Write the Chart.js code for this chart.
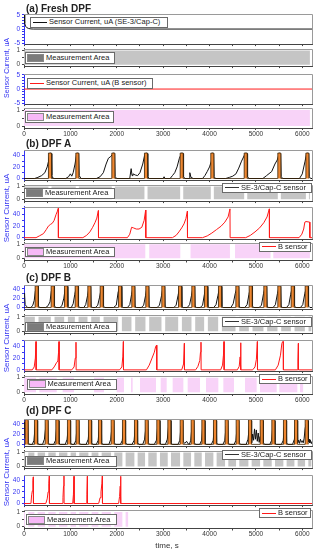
<!DOCTYPE html>
<html><head><meta charset="utf-8">
<script src="https://cdn.jsdelivr.net/npm/chart.js@4.4.1/dist/chart.umd.min.js"></script>
<style>
html,body{margin:0;padding:0;background:#fff;}
#wrap{position:relative;width:318px;height:550px;overflow:hidden;font-family:"Liberation Sans",Arial,sans-serif;background:#fff;}
#wrap canvas{position:absolute;left:0;}
.title{position:absolute;left:26px;font-weight:bold;font-size:10px;line-height:12px;color:#222;white-space:nowrap;z-index:6;}
.ylab{position:absolute;color:#3434f2;font-size:8px;line-height:9px;white-space:nowrap;transform:translate(-50%,-50%) rotate(-90deg);z-index:6;}
.xlab{position:absolute;color:#333;font-size:8px;line-height:9px;white-space:nowrap;transform:translate(-50%,-50%);z-index:6;}
.leg{position:absolute;background:#fff;border:1px solid #6a6a6a;box-sizing:border-box;display:flex;align-items:center;font-size:7.5px;line-height:8px;color:#222;white-space:nowrap;z-index:5;overflow:hidden;}
.leg .ln{display:inline-block;width:14px;height:0;margin:0 2px 0 2px;flex:none;}
.leg .sw{display:inline-block;width:17px;height:8px;margin:0 2px 0 1px;flex:none;box-sizing:border-box;}
</style></head>
<body>
<div id="wrap"></div>
<script>
// ---------------- DATA ----------------
const xMajorTicks = [0, 1000, 2000, 3000, 4000, 5000, 6000];
const sensorTicksFresh = [-5, 0, 5];
const sensorTicks = [0, 20, 40];
const areaTicks = [0, 1];

// (a) Fresh DPF
const freshSE3 = [[0,8],[10,4],[20,2],[35,1],[60,0.5],[100,0.2],[150,0.05],[200,0],[6220,0]];
const freshB = [[0,0],[6220,0]];
const freshAreaSE3 = [[0,6165]];
const freshAreaB = [[0,6165]];

// (b) DPF A
const dpfA_regen = [560,1150,1926,2630,3400,4060,4780,5505,6110];
const dpfA_SE3 = [[0,0],[230,0],[300,2],[380,5],[450,10],[500,20],[530,30],[545,38],[560,44],[590,43],[600,5],[620,1],[650,0],
[900,0],[960,3],[1000,8],[1030,4],[1060,10],[1100,25],[1130,40],[1150,44],[1180,43],[1190,5],[1230,0],
[1560,0],[1640,3],[1710,10],[1770,25],[1820,35],[1870,38],[1910,42],[1926,44],[1955,43],[1965,3],[2000,0],
[2280,0],[2310,17],[2330,5],[2350,8],[2400,6],[2450,5],[2500,10],[2560,25],[2600,40],[2630,44],[2660,43],[2670,3],[2700,0],
[3000,0],[3020,3],[3040,0],[3150,0],[3200,5],[3250,10],[3300,20],[3350,35],[3400,44],[3430,43],[3440,3],[3470,0],
[3560,0],[3575,10],[3600,2],[3650,0],[3850,0],[3900,5],[3950,12],[4000,20],[4040,30],[4060,44],[4090,43],[4100,3],[4130,0],
[4350,0],[4430,2],[4500,4],[4570,8],[4630,18],[4690,30],[4750,40],[4780,44],[4810,43],[4820,3],[4850,0],
[5150,0],[5230,5],[5340,12],[5410,25],[5460,32],[5490,40],[5505,44],[5535,43],[5545,3],[5580,0],
[5940,0],[6000,8],[6060,30],[6090,42],[6110,44],[6140,43],[6150,3],[6180,0],[6220,0]];
const dpfA_B = [[0,0],[260,0],[330,3],[420,7],[480,14],[525,20],[570,23],[610,25],[650,30],[690,40],[720,46],[740,51],[742,0],
[1270,0],[1350,4],[1420,10],[1480,18],[1530,26],[1570,34],[1603,47],[1606,0],
[2230,0],[2280,6],[2320,18],[2360,17],[2420,15],[2480,15],[2540,18],[2590,30],[2623,48],[2626,0],
[3200,0],[3280,4],[3340,10],[3400,17],[3450,24],[3490,33],[3522,46],[3525,0],
[3850,0],[3950,3],[4050,8],[4150,14],[4250,20],[4330,27],[4400,36],[4441,50],[4444,0],
[4780,0],[4880,4],[4980,10],[5080,17],[5170,26],[5240,36],[5289,50],[5292,0],
[5930,0],[5990,6],[6030,15],[6055,27],[6080,28],[6160,27],[6163,0],[6220,0]];
const dpfA_areaSE3 = [[0,527],[593,1117],[1183,1893],[1959,2597],[2663,3367],[3433,4027],[4093,4747],[4813,5472],[5538,6077],[6143,6165]];
const dpfA_areaB = [[0,2615],[2700,3370],[3590,4440],[4550,5315],[5375,6165]];

// (c) DPF B
const dpfB_regen = [273,618,906,1136,1409,1675,2070,2357,2659,3004,3364,3651,3924,4226,4600,4887,5203,5505,5793,6095];
const dpfB_SE3 = [[0,30],[12,28],[25,6],[50,3],[80,0],
[150,0],[190,5],[220,15],[245,35],[273,46],[305,45],[312,3],[340,0],
[470,0],[520,4],[560,12],[590,35],[618,46],[650,45],[658,3],[690,0],
[780,0],[820,5],[860,20],[885,38],[906,46],[938,45],[946,3],[975,0],
[1020,0],[1060,8],[1095,28],[1120,40],[1136,46],[1168,45],[1176,3],[1205,0],
[1290,0],[1330,6],[1370,25],[1395,40],[1409,46],[1441,45],[1449,3],[1480,0],
[1540,0],[1590,5],[1630,22],[1660,38],[1675,46],[1707,45],[1715,3],[1745,0],
[1930,0],[1990,5],[2030,33],[2050,38],[2070,46],[2102,45],[2110,3],[2140,0],
[2230,0],[2280,6],[2320,28],[2345,40],[2357,46],[2389,45],[2397,3],[2425,0],
[2530,0],[2580,5],[2620,25],[2645,40],[2659,46],[2691,45],[2699,3],[2730,0],
[2870,0],[2920,5],[2965,25],[2990,40],[3004,46],[3036,45],[3044,3],[3075,0],
[3230,0],[3280,5],[3320,25],[3350,40],[3364,46],[3396,45],[3404,3],[3435,0],
[3520,0],[3570,6],[3610,25],[3638,40],[3651,46],[3683,45],[3691,3],[3720,0],
[3800,0],[3850,5],[3890,28],[3912,40],[3924,46],[3956,45],[3964,3],[3995,0],
[4090,0],[4140,6],[4180,25],[4212,40],[4226,46],[4258,45],[4266,3],[4295,0],
[4460,0],[4510,8],[4555,30],[4585,40],[4600,46],[4632,45],[4640,3],[4670,0],
[4760,0],[4810,6],[4850,28],[4875,40],[4887,46],[4919,45],[4927,3],[4955,0],
[5070,0],[5120,5],[5165,30],[5190,40],[5203,46],[5235,45],[5243,3],[5275,0],
[5370,0],[5420,6],[5465,30],[5490,40],[5505,46],[5537,45],[5545,3],[5575,0],
[5660,0],[5710,6],[5750,28],[5778,40],[5793,46],[5825,45],[5833,3],[5865,0],
[5960,0],[6010,6],[6055,30],[6082,40],[6095,46],[6127,45],[6135,3],[6165,0],[6220,0]];
const dpfB_B = [[0,0],[180,0],[220,5],[245,20],[259,48],[262,0],
[600,0],[650,5],[700,12],[730,15],[745,30],[755,48],[758,0],
[1030,0],[1080,5],[1105,20],[1121,47],[1124,0],
[2060,0],[2110,5],[2130,22],[2142,48],[2145,0],
[2640,0],[2700,8],[2760,20],[2810,30],[2840,40],[2860,42],[2863,0],
[3400,0],[3440,10],[3457,45],[3460,0],
[3700,0],[3750,6],[3790,16],[3805,30],[3816,47],[3819,0],
[4240,0],[4280,8],[4300,25],[4312,48],[4315,0],
[4600,0],[4640,6],[4660,22],[4672,46],[4675,0],
[4930,0],[4980,5],[5010,18],[5031,48],[5034,0],
[5420,0],[5480,8],[5530,25],[5560,45],[5577,48],[5590,48],[5593,0],
[5890,0],[5905,15],[5915,45],[5918,0],[6220,0]];
const dpfB_areaSE3 = [[0,233],[313,578],[658,866],[946,1096],[1176,1369],[1449,1635],[1715,2030],[2110,2317],[2397,2619],[2699,2964],[3044,3324],[3404,3611],[3691,3884],[3964,4186],[4266,4560],[4640,4847],[4927,5163],[5243,5465],[5545,5753],[5833,6055],[6135,6200]];
const dpfB_areaB = [[0,259],[331,705],[834,1078],[1509,1725],[1998,2156],[2307,2343],[2501,2846],[2947,3076],[3205,3436],[3529,3795],[3924,4190],[4298,4528],[4765,5016],[5088,5448],[5505,5893],[5951,6023]];

// (d) DPF C
const dpfC_regen = [57,259,489,719,970,1157,1423,1639,1912,2156,2415,2645,2896,3134,3400,3637,3867,4118,4370,4607,4873,5125,5376,5627,5865,6095];
const dpfC_SE3 = [[0,40],[12,43],[22,12],[35,30],[57,47],[85,46],[92,3],[120,0],
[180,0],[215,8],[240,35],[259,47],[287,46],[294,3],[320,0],
[400,0],[440,10],[470,35],[489,47],[517,46],[524,3],[550,0],
[640,0],[680,8],[705,35],[719,47],[747,46],[754,3],[780,0],
[890,0],[930,10],[955,35],[970,47],[998,46],[1005,3],[1030,0],
[1080,0],[1120,8],[1145,36],[1157,47],[1185,46],[1192,3],[1220,0],
[1340,0],[1385,10],[1410,36],[1423,47],[1451,46],[1458,3],[1485,0],
[1560,0],[1600,8],[1625,35],[1639,47],[1667,46],[1674,3],[1700,0],
[1830,0],[1870,10],[1898,36],[1912,47],[1940,46],[1947,3],[1975,0],
[2080,0],[2120,8],[2143,35],[2156,47],[2184,46],[2191,3],[2220,0],
[2330,0],[2375,8],[2400,36],[2415,47],[2443,46],[2450,3],[2480,0],
[2560,0],[2600,10],[2630,35],[2645,47],[2673,46],[2680,3],[2710,0],
[2810,0],[2855,8],[2882,35],[2896,47],[2924,46],[2931,3],[2960,0],
[3050,0],[3090,10],[3120,38],[3134,47],[3162,46],[3169,3],[3200,0],
[3320,0],[3360,8],[3385,36],[3400,47],[3428,46],[3435,5],[3470,2],[3505,6],[3540,1],[3565,0],
[3595,8],[3622,36],[3637,47],[3665,46],[3672,3],[3700,0],
[3790,0],[3830,8],[3853,36],[3867,47],[3895,46],[3902,3],[3930,0],
[4040,0],[4080,8],[4105,36],[4118,47],[4146,46],[4153,3],[4180,0],
[4290,0],[4330,8],[4357,36],[4370,47],[4398,46],[4405,3],[4430,0],
[4530,0],[4570,8],[4595,36],[4607,47],[4635,46],[4642,3],[4670,0],
[4790,0],[4830,10],[4860,36],[4873,47],[4901,46],[4908,3],[4930,20],[4950,8],[4970,30],[4990,10],[5010,28],[5030,6],[5050,22],[5070,4],[5090,15],[5100,8],[5112,36],[5125,47],[5153,46],[5160,3],[5190,0],
[5300,0],[5340,8],[5363,36],[5376,47],[5404,46],[5411,3],[5440,0],
[5550,0],[5590,8],[5614,36],[5627,47],[5655,46],[5662,3],[5690,0],
[5790,0],[5830,10],[5852,36],[5865,47],[5893,46],[5900,3],[5920,8],[5940,2],[5960,10],[5980,4],[6000,7],[6020,3],[6040,12],[6060,30],[6080,40],[6095,47],[6123,46],[6130,5],[6145,10],[6160,3],[6175,8],[6190,2],[6205,5],[6220,1]];
const dpfC_B = [[0,0],[150,0],[165,15],[180,22],[192,40],[201,46],[204,0],
[470,0],[500,8],[520,20],[535,35],[546,48],[549,0],
[820,0],[840,10],[852,30],[862,48],[865,0],
[1050,0],[1065,15],[1078,47],[1081,0],
[1340,0],[1355,15],[1366,47],[1369,0],
[1610,0],[1640,10],[1660,20],[1680,35],[1689,48],[1692,0],
[2040,0],[2060,12],[2075,30],[2084,47],[2087,0],[6220,0]];
const dpfC_areaSE3 = [[0,22],[92,224],[294,454],[524,684],[754,935],[1005,1122],[1192,1388],[1458,1604],[1674,1877],[1947,2121],[2191,2380],[2450,2610],[2680,2861],[2931,3099],[3169,3365],[3435,3602],[3672,3832],[3902,4083],[4153,4335],[4405,4572],[4642,4838],[4908,5090],[5160,5341],[5411,5592],[5662,5830],[5900,6060],[6130,6200]];
const dpfC_areaB = [[0,22],[92,224],[294,454],[524,684],[754,935],[1005,1122],[1192,1388],[1458,1604],[1674,1877],[1947,2121],[2191,2250]];

// regeneration marker level (uA) per test and duration (s)
const regenLevel = {b: 44, c: 46, d: 48};
const regenDuration = 66;

// ---------------- LAYOUT / STYLE ----------------
const W = 318, AREA_L = 24, AREA_R = 312.5, X_MAX = 6220;
const FONT = '"Liberation Sans", Arial, sans-serif';
const BLUE = '#3434f2', DARK = '#444';
const C_BLACK = '#111', C_RED = '#ff1a1a', C_ORANGE = '#ee8630', C_ORANGE_EDGE = '#3b2408';
const C_GRAY = '#c5c5c5', C_GRAY_SW = '#7b7b7b', C_PINK = '#f8d3f8', C_PINK_SW = '#f7b8f7';

const layout = {
  a: [{top:14,bottom:46,ref:[[-5,45],[5,15]]},{top:48.5,bottom:67.2,ref:[[0,65.7],[1,50.7]]},{top:74,bottom:106,ref:[[-5,105],[5,75]]},{top:108,bottom:128,ref:[[0,126],[1,110]]}],
  b: [{top:150,bottom:182,ref:[[0,180.3],[40,155.7]]},{top:184.5,bottom:203,ref:[[0,201],[1,186.7]]},{top:206.5,bottom:240.5,ref:[[0,239],[40,215]]},{top:242.5,bottom:260.5,ref:[[0,258.3],[1,244.3]]}],
  c: [{top:285,bottom:311,ref:[[0,309.3],[40,289]]},{top:314.5,bottom:335,ref:[[0,333],[1,317]]},{top:340,bottom:373,ref:[[0,371.7],[40,346.7]]},{top:375.5,bottom:394,ref:[[0,392.3],[1,377.7]]}],
  d: [{top:419,bottom:447.5,ref:[[0,445.7],[40,424]]},{top:450.5,bottom:470,ref:[[0,468.3],[1,452.7]]},{top:475,bottom:507,ref:[[0,505.3],[40,480.7]]},{top:510,bottom:528.5,ref:[[0,526.7],[1,512]]}]
};

const wrap = document.getElementById('wrap');

const framePlugin = {
  id: 'frame',
  afterDraw(chart) {
    const {ctx, chartArea: a} = chart;
    ctx.save();
    ctx.strokeStyle = '#9a9a9a';
    ctx.lineWidth = 1;
    ctx.beginPath();
    ctx.moveTo(a.left, Math.round(a.top) + 0.5);
    ctx.lineTo(Math.round(a.right) - 0.5, Math.round(a.top) + 0.5);
    ctx.lineTo(Math.round(a.right) - 0.5, a.bottom);
    ctx.stroke();
    ctx.restore();
  }
};

function toXY(pairs) { return pairs.map(p => ({x: p[0], y: p[1]})); }

function lineDS(pairs, color, order) {
  return {type: 'line', data: toXY(pairs), borderColor: color, borderWidth: 1, pointRadius: 0, tension: 0, fill: false, order: order};
}
function stepDS(intervals, level, fillColor, edgeColor, edgeWidth, order) {
  const pts = [];
  if (intervals.length && intervals[0][0] > 0) pts.push({x: 0, y: 0});
  intervals.forEach(([a, b]) => { pts.push({x: a, y: level}); pts.push({x: b, y: 0}); });
  return {type: 'line', data: pts, stepped: 'before', borderColor: edgeColor, borderWidth: edgeWidth,
          backgroundColor: fillColor, fill: 'origin', pointRadius: 0, order: order};
}
function regenDS(centers, level) {
  const iv = centers.map(t => [t - regenDuration / 2, t + regenDuration / 2]);
  return stepDS(iv, level, C_ORANGE, C_ORANGE_EDGE, 0.8, 0);
}

// tick positions for the time axis: majors plus half-way minors
const xTickValues = [];
xMajorTicks.forEach((v, i) => { xTickValues.push(v); if (i < xMajorTicks.length - 1) xTickValues.push((v + xMajorTicks[i + 1]) / 2); });

function panel(L, kind, datasets, showX) {
  const padT = 6;
  const cTop = Math.floor(L.top) - padT;
  const cH = Math.ceil(L.bottom) + (showX ? 14 : 4) - cTop;
  const xH = cH - (L.bottom - cTop);
  const [[v0, p0], [v1, p1]] = L.ref;
  const ppu = (p0 - p1) / (v1 - v0);
  const yMax = v1 + (p1 - L.top) / ppu;
  const yMin = v0 - (L.bottom - p0) / ppu;
  let yStep, yLabels, yColor;
  if (kind === 'sensorFresh') { yStep = 1; yLabels = sensorTicksFresh; yColor = BLUE; }
  else if (kind === 'sensor') { yStep = 10; yLabels = sensorTicks; yColor = BLUE; }
  else { yStep = 0.5; yLabels = areaTicks; yColor = DARK; }

  const cv = document.createElement('canvas');
  cv.width = W; cv.height = cH;
  cv.style.width = W + 'px'; cv.style.height = cH + 'px'; cv.style.top = cTop + 'px';
  wrap.appendChild(cv);

  new Chart(cv.getContext('2d'), {
    type: 'line',
    data: {datasets: datasets},
    plugins: [framePlugin],
    options: {
      responsive: false, animation: false, events: [], devicePixelRatio: 1,
      layout: {padding: {top: L.top - cTop, left: 0, right: W - AREA_R, bottom: 0}},
      plugins: {legend: {display: false}, tooltip: {enabled: false}, title: {display: false}},
      scales: {
        x: {
          type: 'linear', min: 0, max: X_MAX,
          afterBuildTicks: s => { s.ticks = xTickValues.map(v => ({value: v})); },
          afterFit: s => { s.height = xH; },
          border: {display: true, color: DARK, width: 1},
          grid: {drawOnChartArea: false, drawTicks: true, tickLength: 2, color: DARK},
          ticks: {display: showX, autoSkip: false, maxTicksLimit: 100, sampleSize: 100, maxRotation: 0, minRotation: 0,
                  padding: 0, color: '#333', font: {size: 6.5, family: FONT},
                  callback: v => (xMajorTicks.indexOf(Math.round(v)) >= 0) ? String(Math.round(v)) : ''}
        },
        y: {
          type: 'linear', min: yMin, max: yMax,
          afterFit: s => { s.width = AREA_L; },
          border: {display: true, color: yColor, width: 1},
          grid: {drawOnChartArea: false, drawTicks: true, tickLength: 2, color: yColor},
          ticks: {stepSize: yStep, includeBounds: false, autoSkip: false, padding: 2, color: yColor,
                  font: {size: 6.5, family: FONT},
                  callback: v => yLabels.includes(v) ? String(v) : ''}
        }
      }
    }
  });
}

// ---- build panels ----
panel(layout.a[0], 'sensorFresh', [lineDS(freshSE3, C_BLACK, 1)], false);
panel(layout.a[1], 'area', [stepDS(freshAreaSE3, 1, C_GRAY, 'rgba(0,0,0,0)', 0, 0)], false);
panel(layout.a[2], 'sensorFresh', [lineDS(freshB, C_RED, 1)], false);
panel(layout.a[3], 'area', [stepDS(freshAreaB, 1, C_PINK, 'rgba(0,0,0,0)', 0, 0)], true);
panel(layout.b[0], 'sensor', [regenDS(dpfA_regen, regenLevel.b), lineDS(dpfA_SE3, C_BLACK, 1)], false);
panel(layout.b[1], 'area', [stepDS(dpfA_areaSE3, 1, C_GRAY, 'rgba(0,0,0,0)', 0, 0)], false);
panel(layout.b[2], 'sensor', [lineDS(dpfA_B, C_RED, 1)], false);
panel(layout.b[3], 'area', [stepDS(dpfA_areaB, 1, C_PINK, 'rgba(0,0,0,0)', 0, 0)], true);
panel(layout.c[0], 'sensor', [regenDS(dpfB_regen, regenLevel.c), lineDS(dpfB_SE3, C_BLACK, 1)], false);
panel(layout.c[1], 'area', [stepDS(dpfB_areaSE3, 1, C_GRAY, 'rgba(0,0,0,0)', 0, 0)], false);
panel(layout.c[2], 'sensor', [lineDS(dpfB_B, C_RED, 1)], false);
panel(layout.c[3], 'area', [stepDS(dpfB_areaB, 1, C_PINK, 'rgba(0,0,0,0)', 0, 0)], true);
panel(layout.d[0], 'sensor', [regenDS(dpfC_regen, regenLevel.d), lineDS(dpfC_SE3, C_BLACK, 1)], false);
panel(layout.d[1], 'area', [stepDS(dpfC_areaSE3, 1, C_GRAY, 'rgba(0,0,0,0)', 0, 0)], false);
panel(layout.d[2], 'sensor', [lineDS(dpfC_B, C_RED, 1)], false);
panel(layout.d[3], 'area', [stepDS(dpfC_areaB, 1, C_PINK, 'rgba(0,0,0,0)', 0, 0)], true);

// ---- text overlays ----
function addDiv(cls, text, css) {
  const d = document.createElement('div');
  d.className = cls; d.textContent = text;
  Object.assign(d.style, css);
  wrap.appendChild(d);
  return d;
}
addDiv('title', '(a) Fresh DPF', {top: '3px'});
addDiv('title', '(b) DPF A', {top: '138px'});
addDiv('title', '(c) DPF B', {top: '272px'});
addDiv('title', '(d) DPF C', {top: '405px'});

addDiv('ylab', 'Sensor Current, uA', {left: '6px', top: '68px', fontSize: '7px'});
addDiv('ylab', 'Sensor Current, uA', {left: '6px', top: '208px'});
addDiv('ylab', 'Sensor Current, uA', {left: '6px', top: '338px'});
addDiv('ylab', 'Sensor Current, uA', {left: '6px', top: '472px'});
addDiv('xlab', 'time, s', {left: '167px', top: '545px'});

function legend(l, t, w, h, kind, color, text) {
  const d = document.createElement('div');
  d.className = 'leg';
  Object.assign(d.style, {left: l + 'px', top: t + 'px', width: w + 'px', height: h + 'px'});
  const s = document.createElement('span');
  if (kind === 'line') { s.className = 'ln'; s.style.borderTop = '1.5px solid ' + color; }
  else { s.className = 'sw'; s.style.background = color; s.style.border = '0.5px solid #888'; }
  d.appendChild(s);
  const tx = document.createElement('span');
  tx.textContent = text;
  d.appendChild(tx);
  wrap.appendChild(d);
}
legend(30, 17, 138, 10.5, 'line', '#111', 'Sensor Current, uA (SE-3/Cap-C)');
legend(25, 52, 90, 11.5, 'box', C_GRAY_SW, 'Measurement Area');
legend(27, 78, 126, 10.5, 'line', C_RED, 'Sensor Current, uA (B sensor)');
legend(25, 111, 89, 12, 'box', C_PINK_SW, 'Measurement Area');

legend(24, 187.5, 91, 11, 'box', C_GRAY_SW, 'Measurement Area');
legend(222, 182.5, 90, 10.5, 'line', '#333', 'SE-3/Cap-C sensor');
legend(25, 246.5, 90, 10.5, 'box', C_PINK_SW, 'Measurement Area');
legend(259, 241.5, 52, 10, 'line', C_RED, 'B sensor');

legend(25, 321.5, 92, 10.5, 'box', C_GRAY_SW, 'Measurement Area');
legend(222, 316.5, 90, 10.5, 'line', '#333', 'SE-3/Cap-C sensor');
legend(26.5, 379, 90, 10.5, 'box', C_PINK_SW, 'Measurement Area');
legend(259, 374.3, 52, 10, 'line', C_RED, 'B sensor');

legend(25, 456, 92, 10.5, 'box', C_GRAY_SW, 'Measurement Area');
legend(222, 449.5, 90, 10.5, 'line', '#333', 'SE-3/Cap-C sensor');
legend(26, 514, 90.5, 11, 'box', C_PINK_SW, 'Measurement Area');
legend(259, 508.3, 52, 10, 'line', C_RED, 'B sensor');
</script>
</body></html>
